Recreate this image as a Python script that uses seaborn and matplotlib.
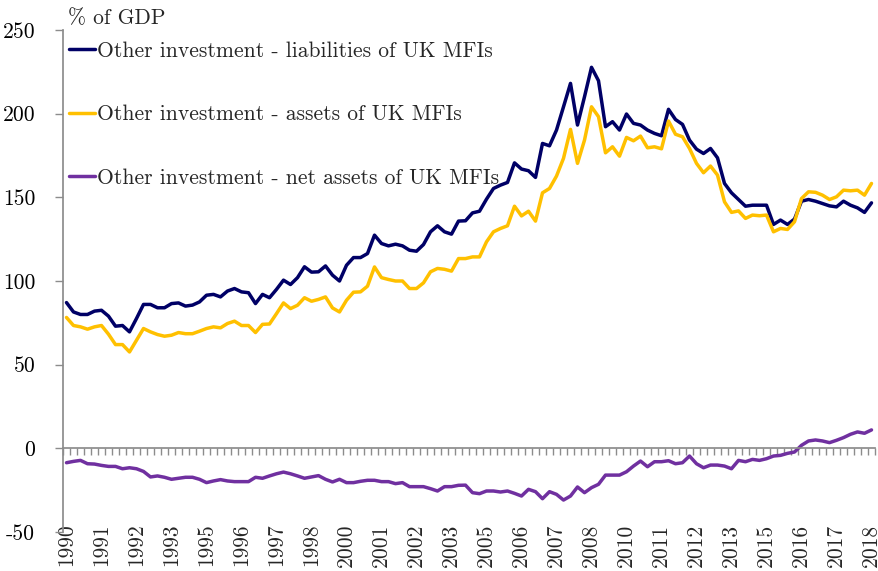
import numpy as np
import pandas as pd
import matplotlib
matplotlib.use("Agg")
import matplotlib.pyplot as plt
import seaborn as sns

# Quarterly data, 1990 Q1 - 2018 Q4 (% of GDP)
liabilities = [
    87.1, 81.5, 80.0, 80.0, 82.0, 82.5, 79.0, 73.0, 73.4, 69.6,
    77.6, 86.0, 86.0, 84.0, 84.0, 86.5, 86.9, 85.0, 85.6, 87.5,
    91.5, 92.0, 90.5, 94.0, 95.5, 93.5, 93.0, 86.5, 92.0, 90.0,
    95.0, 100.5, 97.9, 102.0, 108.5, 105.3, 105.5, 109.0, 103.5, 100.0,
    109.4, 114.0, 114.0, 116.4, 127.4, 122.4, 121.0, 122.0, 121.0, 118.4,
    117.8, 121.8, 129.4, 133.0, 129.4, 128.0, 135.8, 136.0, 140.7, 141.7,
    148.9, 155.3, 157.3, 158.9, 170.6, 166.9, 165.9, 161.9, 182.2, 180.8,
    190.2, 204.1, 218.1, 193.2, 210.1, 227.7, 219.7, 192.2, 195.2, 190.2,
    199.8, 194.2, 193.2, 190.2, 188.2, 186.8, 202.6, 196.5, 193.6, 184.2,
    178.8, 176.2, 179.2, 173.6, 158.3, 152.7, 148.7, 144.7, 145.3, 145.3,
    145.3, 133.8, 136.4, 133.8, 137.0, 147.7, 148.7, 147.7, 146.3, 144.9,
    144.3, 147.7, 145.3, 143.7, 141.0, 146.7,
]
assets = [
    78.2, 73.4, 72.6, 71.2, 72.6, 73.4, 68.2, 62.0, 62.0, 57.6,
    64.6, 71.6, 69.6, 68.0, 67.0, 67.6, 69.2, 68.5, 68.5, 70.0,
    71.6, 72.6, 72.0, 74.6, 76.0, 73.4, 73.4, 69.2, 74.1, 74.3,
    80.5, 86.9, 83.5, 85.5, 90.0, 87.9, 89.0, 90.5, 83.9, 81.5,
    88.5, 93.3, 93.5, 96.9, 108.4, 102.0, 100.9, 100.0, 100.0, 95.5,
    95.5, 98.9, 105.5, 107.5, 107.0, 105.9, 113.4, 113.4, 114.4, 114.4,
    123.4, 129.4, 131.4, 133.0, 144.7, 138.9, 141.7, 135.8, 152.7, 155.3,
    162.7, 173.3, 190.6, 170.3, 184.2, 204.1, 198.2, 176.6, 180.2, 174.6,
    185.8, 183.8, 186.6, 179.6, 180.2, 179.0, 195.6, 187.7, 186.2, 179.2,
    170.3, 164.7, 168.7, 163.3, 147.3, 141.0, 141.9, 137.4, 139.4, 139.0,
    139.4, 129.4, 131.4, 130.8, 135.4, 149.3, 153.3, 153.0, 151.3, 148.7,
    150.3, 154.3, 153.9, 154.3, 151.3, 158.3,
]
net_assets = [
    -8.6, -7.8, -7.2, -9.2, -9.4, -10.2, -10.8, -10.8, -12.2, -11.6,
    -12.2, -13.8, -17.1, -16.5, -17.3, -18.5, -17.9, -17.3, -17.3, -18.5,
    -20.5, -19.5, -18.7, -19.5, -19.9, -19.9, -19.9, -17.3, -17.9, -16.5,
    -15.2, -14.2, -15.2, -16.5, -17.9, -17.1, -16.3, -18.5, -20.1, -18.5,
    -20.5, -20.5, -19.7, -19.1, -19.1, -19.9, -19.9, -21.1, -20.5, -22.9,
    -22.9, -22.9, -24.1, -25.5, -22.9, -22.9, -22.1, -22.0, -26.5, -27.1,
    -25.5, -25.5, -26.1, -25.5, -26.9, -28.5, -24.5, -25.9, -30.1, -25.9,
    -27.5, -30.9, -28.5, -23.1, -26.5, -23.5, -21.5, -16.0, -16.0, -16.0,
    -14.0, -10.6, -7.6, -11.0, -8.0, -8.0, -7.4, -9.2, -8.6, -4.6,
    -9.2, -11.6, -10.0, -10.0, -10.6, -12.2, -7.2, -8.0, -6.6, -7.2,
    -6.2, -4.6, -4.2, -3.0, -2.2, 1.8, 4.4, 5.0, 4.4, 3.4,
    4.8, 6.4, 8.4, 9.8, 9.0, 11.0,
]
series_names = [
    "Other investment - liabilities of UK MFIs",
    "Other investment - assets of UK MFIs",
    "Other investment - net assets of UK MFIs",
]
year_labels = ["1990", "1991", "1992", "1993", "1995", "1996", "1997", "1998",
               "2000", "2001", "2002", "2003", "2005", "2006", "2007", "2008",
               "2010", "2011", "2012", "2013", "2015", "2016", "2017", "2018"]
y_ticks = [-50, 0, 50, 100, 150, 200, 250]
y_tick_labels = ["-50", "0", "50", "100", "150", "200", "250"]
colors = ["#000066", "#FFC000", "#7030A0"]

sns.set_theme(style="white")
plt.rcParams["font.family"] = ["cmr10", "DejaVu Serif"]
plt.rcParams["axes.unicode_minus"] = False
plt.rcParams["axes.formatter.use_mathtext"] = True

n = len(liabilities)
df = pd.DataFrame({
    "q": np.tile(np.arange(n), 3),
    "value": liabilities + assets + net_assets,
    "series": np.repeat(series_names, n),
})

W, H = 879, 571
fig = plt.figure(figsize=(W / 100, H / 100), dpi=100)
ax = fig.add_axes([63 / W, 39 / H, 812 / W, 502 / H])
sns.lineplot(data=df, x="q", y="value", hue="series", hue_order=series_names,
             palette=colors, linewidth=2.5, ax=ax)

fs = 15.5
grey = "#8c8c8c"
ax.set_xlim(-0.5, n - 0.5)
ax.set_ylim(-50, 250)
ax.set_xlabel("")
ax.set_ylabel("")
ax.set_yticks(y_ticks)
ax.set_yticklabels(y_tick_labels, fontsize=fs, color="black")
ax.tick_params(axis="y", direction="out", length=6, width=1, color=grey,
               pad=14, left=True)

# x-axis line at zero with a tick between each quarter
ax.spines["bottom"].set_position(("data", 0))
ax.spines["bottom"].set_color(grey)
ax.spines["left"].set_color(grey)
ax.spines["top"].set_visible(False)
ax.spines["right"].set_visible(False)
ax.set_xticks(np.arange(-0.5, n, 1.0))
ax.set_xticklabels([])
ax.tick_params(axis="x", direction="out", length=5, width=1, color=grey,
               bottom=True)

# year labels at the foot of the plot
sec = ax.secondary_xaxis(0.0)
sec.set_xticks(np.arange(0, n, 5))
sec.set_xticklabels(year_labels, rotation=90, fontsize=fs, va="top")
sec.tick_params(length=0, pad=-6)
sec.spines["bottom"].set_visible(False)

ax.legend(loc="upper left", bbox_to_anchor=(69 / W, 1 - 41 / H),
          bbox_transform=fig.transFigure, frameon=False, fontsize=fs,
          handlelength=1.2, handletextpad=0.12, labelspacing=2.05,
          borderpad=0, borderaxespad=0)

fig.text(68 / W, 1 - 18 / H, "% of GDP", fontsize=fs, va="center", ha="left")

fig.savefig("out.png", dpi=100)
